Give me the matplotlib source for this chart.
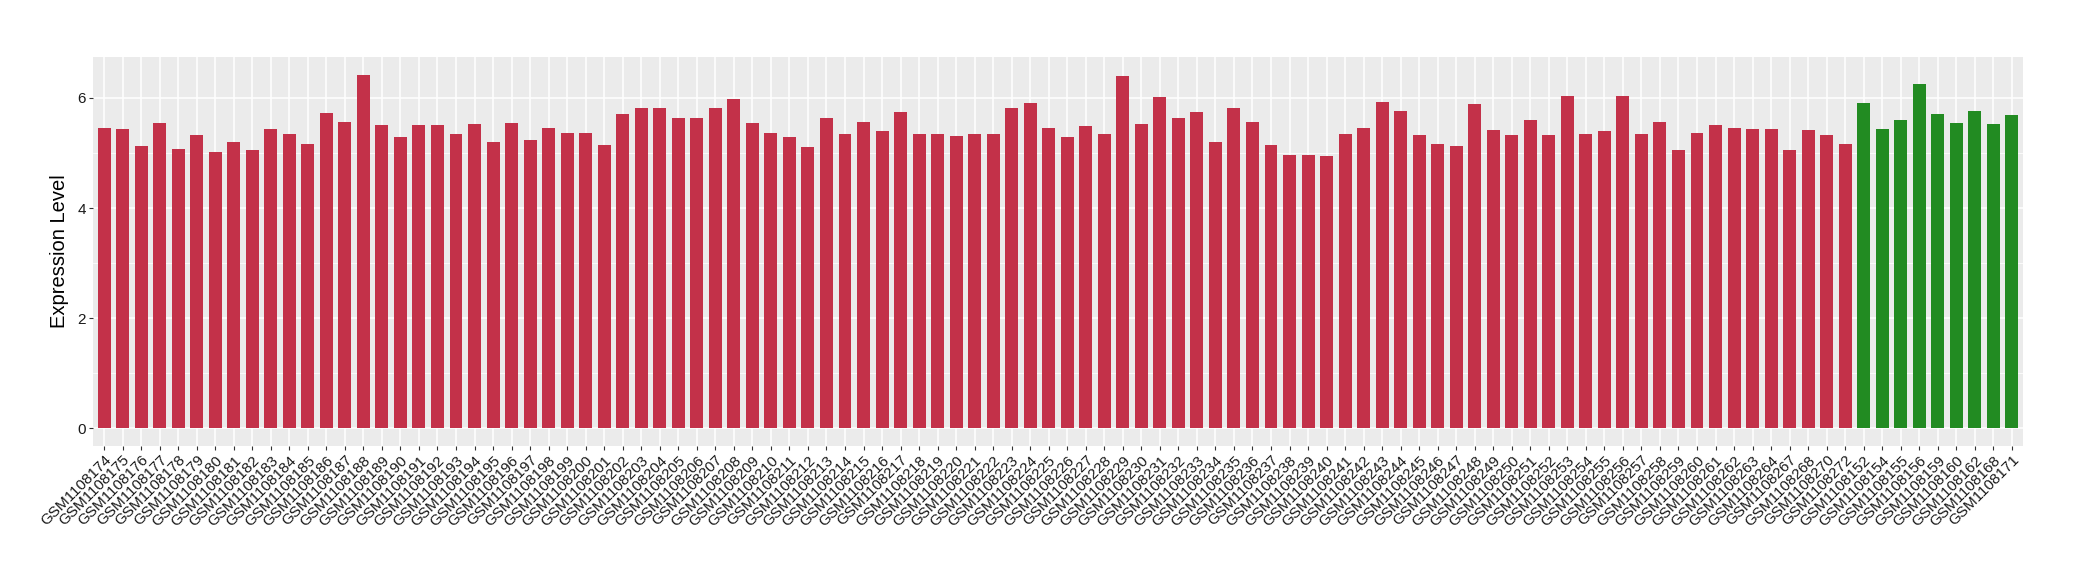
import matplotlib
matplotlib.use("Agg")
import matplotlib.pyplot as plt
from matplotlib.ticker import MultipleLocator

plt.rcParams["font.family"] = ["Liberation Sans", "DejaVu Sans"]

# Sample ids (red group first, then green group)
red_ids = [f"GSM{n}" for n in range(1108174, 1108265)] + [
    "GSM1108267", "GSM1108268", "GSM1108270", "GSM1108272"]
green_ids = ["GSM1108152", "GSM1108154", "GSM1108155", "GSM1108156", "GSM1108159",
             "GSM1108160", "GSM1108162", "GSM1108168", "GSM1108171"]

red_values = [
    5.46, 5.43, 5.12, 5.55, 5.08, 5.32, 5.01, 5.19, 5.06, 5.43,
    5.34, 5.17, 5.73, 5.57, 6.42, 5.50, 5.28, 5.50, 5.50, 5.35,
    5.53, 5.19, 5.55, 5.23, 5.46, 5.37, 5.37, 5.14, 5.70, 5.82,
    5.82, 5.64, 5.64, 5.82, 5.97, 5.55, 5.37, 5.28, 5.10, 5.63,
    5.34, 5.57, 5.39, 5.75, 5.34, 5.35, 5.30, 5.34, 5.35, 5.81,
    5.90, 5.46, 5.28, 5.48, 5.34, 6.39, 5.52, 6.01, 5.63, 5.75,
    5.19, 5.81, 5.57, 5.14, 4.97, 4.97, 4.95, 5.35, 5.46, 5.92,
    5.77, 5.32, 5.17, 5.12, 5.88, 5.41, 5.32, 5.59, 5.32, 6.04,
    5.34, 5.39, 6.04, 5.34, 5.57, 5.05, 5.37, 5.50, 5.46, 5.43,
    5.43, 5.06, 5.41, 5.32, 5.17,
]
green_values = [5.90, 5.44, 5.59, 6.26, 5.70, 5.55, 5.77, 5.52, 5.68]

RED = "#C33149"
GREEN = "#228B22"

labels = red_ids + green_ids
values = red_values + green_values
colors = [RED] * len(red_values) + [GREEN] * len(green_values)
x = list(range(len(values)))

fig = plt.figure(figsize=(20.8, 5.8), dpi=100)
ax = fig.add_axes([0.0447, 0.231, 0.9279, 0.6707])
ax.set_facecolor("#EBEBEB")

ax.bar(x, values, width=0.7, color=colors, zorder=3)

ax.set_xlim(-0.6, len(values) - 1 + 0.6)
top = max(values) * 1.05
ax.set_ylim(-max(values) * 0.05, top)

ax.yaxis.set_major_locator(MultipleLocator(2))
ax.yaxis.set_minor_locator(MultipleLocator(1))
ax.grid(which="major", color="white", linewidth=1.1, zorder=0)
ax.grid(which="minor", axis="y", color="white", linewidth=0.55, zorder=0)

ax.set_xticks(x)
ax.set_xticklabels(labels, rotation=45, ha="right", va="top",
                   rotation_mode="anchor", fontsize=11, color="#1a1a1a")
ax.tick_params(axis="both", which="major", length=3, width=0.8, color="#333333",
               labelsize=11, labelcolor="#1a1a1a", pad=2)
ax.tick_params(axis="y", which="minor", length=0)

for s in ax.spines.values():
    s.set_visible(False)

ax.set_ylabel("Expression Level", fontsize=14.5, labelpad=6)

fig.savefig("out.png", dpi=100)
